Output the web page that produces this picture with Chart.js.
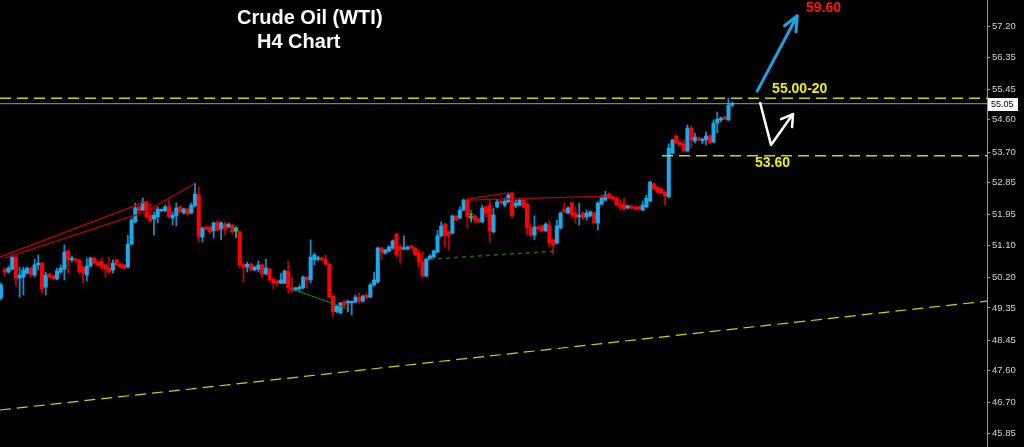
<!DOCTYPE html>
<html>
<head>
<meta charset="utf-8">
<title>Crude Oil (WTI) H4 Chart</title>
<script src="https://cdn.jsdelivr.net/npm/chart.js@4.4.1/dist/chart.umd.min.js"></script>
<style>
  html, body { margin: 0; padding: 0; background: #000; }
</style>
</head>
<body>
<canvas id="oilChart" width="1024" height="447"></canvas>
<script>
// ===================== DATA (H4 candles, oldest first) =====================
const opens = [
  49.63, 50.43, 50.35, 50.43, 50.77, 50.18, 50.21, 50.32, 50.46, 50.27,
  50.55, 50.60, 49.93, 50.30, 50.24, 50.16, 50.35, 50.43, 50.94, 50.69,
  50.71, 50.69, 50.49, 50.27, 50.52, 50.74, 50.63, 50.63, 50.55, 50.46,
  50.41, 50.69, 50.57, 50.55, 50.49, 51.13, 51.75, 52.17, 52.08, 52.31,
  51.94, 51.83, 51.89, 52.06, 52.06, 52.17, 51.86, 51.92, 52.17, 52.00,
  52.11, 52.00, 52.20, 52.50, 51.33, 51.61, 51.61, 51.50, 51.75, 51.55,
  51.69, 51.61, 51.66, 51.50, 51.47, 50.57, 50.49, 50.57, 50.41, 50.43,
  50.55, 50.30, 50.43, 50.16, 50.10, 50.04, 50.04, 50.38, 49.91, 49.85,
  49.88, 49.91, 50.21, 50.13, 50.69, 50.71, 50.74, 50.71, 50.57, 49.68,
  49.24, 49.21, 49.51, 49.49, 49.49, 49.51, 49.65, 49.54, 49.71, 49.65,
  49.99, 50.07, 51.02, 50.88, 50.94, 51.02, 51.41, 51.08, 50.99, 50.99,
  51.08, 51.02, 50.88, 50.63, 50.24, 50.71, 50.77, 50.91, 51.36, 51.69,
  51.47, 51.44, 51.92, 51.86, 52.08, 52.36, 51.86, 51.92, 51.83, 51.75,
  52.17, 52.22, 51.47, 52.17, 52.33, 52.22, 52.31, 52.56, 52.20, 52.22,
  52.36, 52.25, 51.58, 51.38, 51.61, 51.64, 51.50, 51.66, 51.25, 51.16,
  51.58, 52.11, 52.00, 52.28, 52.00, 51.89, 52.00, 51.89, 51.92, 52.00,
  51.72, 52.25, 52.36, 52.53, 52.45, 52.42, 52.22, 52.25, 52.14, 52.20,
  52.17, 52.17, 52.08, 52.17, 52.33, 52.81, 52.72, 52.67, 52.58, 52.45,
  53.67, 54.15, 53.98, 53.93, 53.73, 54.37, 54.01, 54.09, 54.01, 54.04,
  54.15, 53.98, 54.51, 54.60, 54.68, 54.60, 55.01
];
const highs = [
  50.04, 50.46, 50.52, 50.83, 50.80, 50.49, 50.49, 50.49, 50.49, 50.71,
  50.83, 50.63, 50.35, 50.32, 50.27, 50.46, 50.55, 51.11, 50.97, 50.80,
  50.74, 50.71, 50.52, 50.74, 50.77, 50.77, 50.66, 50.74, 50.57, 50.77,
  50.69, 50.71, 50.60, 50.57, 51.38, 51.86, 52.28, 52.20, 52.42, 52.33,
  52.28, 52.03, 52.17, 52.11, 52.22, 52.36, 52.03, 52.28, 52.20, 52.14,
  52.14, 52.28, 52.83, 52.72, 51.61, 51.64, 51.64, 51.75, 51.78, 51.75,
  51.75, 51.72, 51.69, 51.61, 51.50, 50.60, 50.63, 50.60, 50.52, 50.66,
  50.57, 50.71, 50.46, 50.18, 50.13, 50.32, 50.41, 50.66, 50.21, 49.93,
  49.99, 50.24, 50.24, 51.25, 50.88, 50.80, 50.77, 50.83, 50.60, 49.71,
  49.43, 49.51, 49.57, 49.57, 49.54, 49.71, 49.77, 49.71, 49.77, 50.04,
  50.35, 51.05, 51.05, 50.99, 51.08, 51.25, 51.44, 51.11, 51.36, 51.08,
  51.11, 51.05, 50.97, 50.91, 50.74, 50.83, 50.97, 51.52, 51.75, 51.72,
  51.50, 51.94, 51.94, 52.17, 52.39, 52.39, 51.97, 51.94, 51.86, 52.22,
  52.20, 52.36, 52.14, 52.39, 52.36, 52.42, 52.56, 52.58, 52.36, 52.42,
  52.39, 52.28, 51.72, 51.92, 51.64, 51.66, 51.72, 51.78, 51.28, 51.80,
  52.03, 52.28, 52.17, 52.31, 52.17, 52.28, 52.03, 52.08, 52.06, 52.03,
  52.31, 52.50, 52.61, 52.56, 52.47, 52.45, 52.36, 52.42, 52.22, 52.22,
  52.20, 52.20, 52.33, 52.50, 52.89, 52.83, 52.75, 52.70, 52.61, 53.93,
  54.06, 54.18, 54.01, 54.04, 54.46, 54.43, 54.23, 54.12, 54.09, 54.26,
  54.18, 54.60, 54.82, 54.68, 54.71, 55.21, 55.10
];
const lows = [
  49.57, 50.24, 50.32, 50.41, 49.96, 49.65, 49.71, 50.30, 50.21, 50.21,
  50.41, 49.77, 49.71, 50.18, 50.13, 50.13, 50.32, 50.13, 50.32, 50.63,
  50.63, 50.32, 50.04, 50.10, 50.49, 50.57, 50.52, 50.41, 50.21, 50.32,
  50.32, 50.52, 50.46, 50.41, 50.46, 51.11, 51.72, 52.03, 52.06, 51.86,
  51.75, 51.38, 51.72, 52.03, 52.03, 51.86, 51.66, 51.64, 52.00, 51.97,
  51.94, 51.97, 52.17, 51.19, 51.19, 51.52, 51.44, 51.30, 51.50, 51.25,
  51.38, 51.58, 51.44, 51.30, 50.46, 50.07, 50.35, 50.38, 50.38, 50.35,
  50.21, 50.27, 50.10, 49.88, 49.96, 50.02, 50.02, 49.77, 49.79, 49.82,
  49.79, 49.88, 49.91, 50.04, 50.55, 50.66, 50.66, 50.55, 49.63, 49.10,
  49.21, 49.18, 49.35, 49.24, 49.15, 49.49, 49.46, 49.51, 49.60, 49.63,
  49.96, 50.04, 50.69, 50.85, 50.91, 50.99, 50.77, 50.60, 50.97, 50.97,
  50.99, 50.80, 50.46, 50.18, 50.21, 50.69, 50.74, 50.88, 51.33, 51.05,
  50.97, 51.41, 51.78, 51.83, 52.06, 51.58, 51.75, 51.72, 51.72, 51.72,
  51.89, 51.19, 51.44, 52.14, 52.25, 52.17, 52.28, 51.86, 52.14, 52.20,
  52.14, 51.38, 51.33, 51.25, 51.52, 51.47, 51.47, 51.05, 50.85, 51.13,
  51.55, 52.00, 51.97, 51.86, 51.72, 51.66, 51.83, 51.80, 51.89, 51.69,
  51.52, 52.22, 52.33, 52.39, 52.36, 52.20, 52.08, 52.08, 52.11, 52.11,
  52.08, 52.08, 52.06, 52.14, 52.31, 52.64, 52.56, 52.53, 52.22, 52.42,
  53.65, 53.93, 53.87, 53.70, 53.70, 53.81, 53.95, 54.01, 53.93, 53.90,
  53.93, 53.95, 54.23, 54.54, 54.60, 54.57, 54.96
];
const closes = [
  49.99, 50.35, 50.46, 50.77, 50.18, 50.27, 50.41, 50.46, 50.27, 50.55,
  50.60, 49.88, 50.27, 50.21, 50.16, 50.38, 50.46, 50.91, 50.69, 50.74,
  50.66, 50.35, 50.32, 50.52, 50.74, 50.60, 50.55, 50.49, 50.43, 50.35,
  50.60, 50.55, 50.49, 50.46, 51.13, 51.80, 52.14, 52.06, 52.31, 51.89,
  51.78, 51.94, 52.11, 52.08, 52.17, 51.89, 51.94, 52.14, 52.03, 52.11,
  51.97, 52.22, 52.53, 51.33, 51.58, 51.55, 51.47, 51.72, 51.52, 51.72,
  51.55, 51.69, 51.47, 51.58, 50.55, 50.49, 50.57, 50.41, 50.49, 50.55,
  50.30, 50.46, 50.13, 50.04, 50.04, 50.13, 50.38, 49.91, 49.85, 49.91,
  49.93, 50.21, 50.13, 50.77, 50.83, 50.74, 50.69, 50.57, 49.65, 49.24,
  49.40, 49.49, 49.43, 49.51, 49.51, 49.65, 49.54, 49.68, 49.63, 49.99,
  50.13, 51.02, 50.91, 50.97, 51.05, 51.22, 50.83, 50.97, 51.02, 51.05,
  51.02, 50.83, 50.63, 50.24, 50.71, 50.80, 50.94, 51.36, 51.64, 51.38,
  51.36, 51.92, 51.80, 52.08, 52.36, 51.89, 51.89, 51.80, 51.75, 52.14,
  52.00, 51.50, 51.94, 52.31, 52.28, 52.33, 52.50, 51.92, 52.28, 52.36,
  52.17, 51.58, 51.38, 51.61, 51.55, 51.50, 51.69, 51.16, 51.11, 51.64,
  52.00, 52.03, 52.14, 51.94, 51.89, 51.94, 51.86, 52.00, 52.03, 51.72,
  52.28, 52.42, 52.50, 52.42, 52.39, 52.22, 52.17, 52.11, 52.20, 52.14,
  52.11, 52.11, 52.22, 52.42, 52.86, 52.67, 52.58, 52.56, 52.47, 53.81,
  54.04, 53.95, 53.90, 53.73, 54.37, 54.04, 54.12, 54.04, 54.06, 54.15,
  53.95, 54.51, 54.62, 54.65, 54.62, 55.01, 55.05
];
const yTickValues = [57.20, 56.35, 55.45, 54.60, 53.70, 52.85, 51.95, 51.10, 50.20, 49.35, 48.45, 47.60, 46.70, 45.85];

// key levels
const resistanceLevel = 55.20;
const supportLevel = 53.60;
const targetLevel = 59.60;
const lastPrice = closes[closes.length - 1];

// drawn objects in (bar index, price): [i1, p1, i2, p2]
const redTrends = [
  [-0.3, 50.77, 38.6, 52.31],
  [1, 50.74, 41.8, 52.14],
  [40.5, 52.14, 52, 52.83],
  [125, 52.39, 136, 52.56],
  [125, 52.36, 162.5, 52.47]
];
const greenTrend = [78.8, 49.85, 93, 49.32];
const greenDashTrend = [115, 50.71, 149.1, 50.94];
const channelLine = [-0.3, 46.50, 264.3, 49.54];
const markers = [[63, 51.47], [126, 51.94]];
const blueArrow = [[202.7, 55.40], [213.4, 57.50]];
const whiteArrow = [[203.5, 55.07], [206.4, 53.90], [212.3, 54.76]];

const X_MIN = -0.27, X_MAX = 264.3;
const Y_MIN = 45.467, Y_MAX = 57.945;

// ===================== DATASETS =====================
const isUp = i => closes[i] >= opens[i];
const bodyColors = opens.map((o, i) => isUp(i) ? '#1aa9ec' : '#ff0000');
const wickColors = opens.map((o, i) => isUp(i) ? '#1f86bd' : '#c00000');

const seg = (s) => [{ x: s[0], y: s[1] }, { x: s[2], y: s[3] }];
const lineDs = (data, color, width, dash) => ({
  type: 'line', data, borderColor: color, borderWidth: width, borderDash: dash || [],
  pointRadius: 0, fill: false, order: 0, tension: 0
});

const datasets = [
  {
    type: 'bar', label: 'body', order: 1, grouped: false,
    data: opens.map((o, i) => ({ x: i, y: [o, closes[i]] })),
    backgroundColor: bodyColors, borderWidth: 0, barThickness: 3.4, minBarLength: 1.5
  },
  {
    type: 'bar', label: 'wick', order: 2, grouped: false,
    data: lows.map((l, i) => ({ x: i, y: [l, highs[i]] })),
    backgroundColor: wickColors, borderWidth: 0, barThickness: 1.2
  },
  lineDs(seg([X_MIN, resistanceLevel, X_MAX, resistanceLevel]), '#d2d200', 1.5, [11, 6]),
  lineDs(seg([177.2, supportLevel, X_MAX, supportLevel]), '#d2d200', 1.5, [11, 6]),
  lineDs(seg([X_MIN, lastPrice, X_MAX, lastPrice]), '#9c9c9c', 1),
  lineDs(seg(channelLine), '#d2d200', 1.2, [11, 6]),
  lineDs(seg(greenTrend), '#128012', 1.2),
  lineDs(seg(greenDashTrend), '#107010', 1.5, [4, 4])
];
redTrends.forEach(t => datasets.push(lineDs(seg(t), '#b80000', 1.3)));

// ===================== ANNOTATIONS PLUGIN =====================
function arrowHead(ctx, fx, fy, tx, ty, len, spread) {
  const a = Math.atan2(ty - fy, tx - fx);
  ctx.beginPath();
  ctx.moveTo(tx - len * Math.cos(a - spread), ty - len * Math.sin(a - spread));
  ctx.lineTo(tx, ty);
  ctx.lineTo(tx - len * Math.cos(a + spread), ty - len * Math.sin(a + spread));
  ctx.stroke();
}

const annotations = {
  id: 'annotations',
  afterDatasetsDraw(chart) {
    const { ctx, scales: { x, y } } = chart;
    const px = i => x.getPixelForValue(i);
    const py = p => y.getPixelForValue(p);
    ctx.save();
    ctx.lineCap = 'round';
    ctx.lineJoin = 'round';

    // green markers
    ctx.strokeStyle = '#1fd21f';
    ctx.lineWidth = 1;
    markers.forEach(m => {
      const cx = px(m[0]), cy = py(m[1]);
      ctx.beginPath();
      ctx.moveTo(cx, cy - 5); ctx.lineTo(cx, cy + 5);
      ctx.moveTo(cx - 2, cy - 1); ctx.lineTo(cx + 2, cy - 1);
      ctx.stroke();
    });

    // blue arrow to target
    ctx.strokeStyle = '#1ba3e6';
    ctx.lineWidth = 3;
    const b0 = [px(blueArrow[0][0]), py(blueArrow[0][1])];
    const b1 = [px(blueArrow[1][0]), py(blueArrow[1][1])];
    ctx.beginPath(); ctx.moveTo(b0[0], b0[1]); ctx.lineTo(b1[0], b1[1]); ctx.stroke();
    arrowHead(ctx, b0[0], b0[1], b1[0], b1[1], 16, 0.42);

    // white pullback arrow
    ctx.strokeStyle = '#ffffff';
    ctx.lineWidth = 2.5;
    const w = whiteArrow.map(p => [px(p[0]), py(p[1])]);
    ctx.beginPath();
    ctx.moveTo(w[0][0], w[0][1]);
    w.slice(1).forEach(p => ctx.lineTo(p[0], p[1]));
    ctx.stroke();
    arrowHead(ctx, w[1][0], w[1][1], w[2][0], w[2][1], 13, 0.55);

    // level labels
    ctx.font = 'bold 14px "Liberation Sans", Arial, sans-serif';
    ctx.textBaseline = 'middle';
    ctx.textAlign = 'left';
    ctx.fillStyle = '#ff1414';
    ctx.fillText(targetLevel.toFixed(2), px(215.8), py(57.72));
    ctx.fillStyle = '#f0f000';
    ctx.fillText('55.00-20', px(206.7), py(55.46));
    ctx.fillText(supportLevel.toFixed(2), px(202.1), py(53.40));

    // title
    ctx.fillStyle = '#ffffff';
    ctx.font = 'bold 20px "Liberation Sans", Arial, sans-serif';
    ctx.fillText('Crude Oil (WTI)', 237, 18);
    ctx.fillText('H4 Chart', 257, 42);

    // current price box on axis
    const ly = Math.round(py(lastPrice));
    ctx.fillStyle = '#ffffff';
    ctx.fillRect(988, ly - 6, 30, 13);
    ctx.fillStyle = '#000000';
    ctx.font = '9px "Liberation Sans", Arial, sans-serif';
    ctx.fillText(lastPrice.toFixed(2), 991, ly + 0.5);
    ctx.restore();
  }
};

// ===================== CHART =====================
const ctx = document.getElementById('oilChart').getContext('2d');
const oilChart = new Chart(ctx, {
  type: 'bar',
  data: { datasets },
  plugins: [annotations],
  options: {
    responsive: false,
    animation: false,
    layout: { padding: 0 },
    plugins: { legend: { display: false }, tooltip: { enabled: false } },
    scales: {
      x: {
        type: 'linear', display: false, offset: false,
        min: X_MIN, max: X_MAX
      },
      y: {
        position: 'right',
        min: Y_MIN, max: Y_MAX,
        beginAtZero: false,
        afterBuildTicks: s => { s.ticks = yTickValues.map(v => ({ value: v })); },
        afterFit: s => { s.width = 37; s.paddingTop = 0; s.paddingBottom = 0; },
        ticks: {
          autoSkip: false,
          color: '#d4d4d4',
          padding: 2,
          font: { family: 'Liberation Sans', size: 9.5 },
          callback: v => Number(v).toFixed(2)
        },
        grid: { drawOnChartArea: false, tickLength: 3, color: '#9a9a9a' },
        border: { color: '#9a9a9a', width: 1 }
      }
    }
  }
});
</script>
</body>
</html>
